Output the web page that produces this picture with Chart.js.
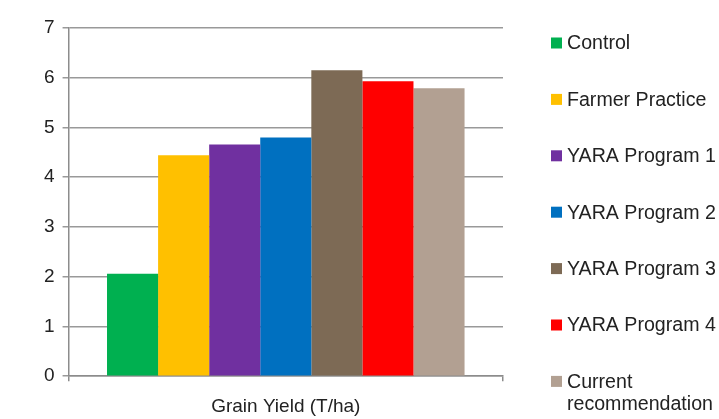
<!DOCTYPE html>
<html>
<head>
<meta charset="utf-8">
<script src="https://cdn.jsdelivr.net/npm/chart.js@4/dist/chart.umd.min.js"></script>
<style>
  html, body { margin: 0; padding: 0; background: #fff; }
  #wrap { width: 719px; height: 419px; }
</style>
</head>
<body>
<div id="wrap"><canvas id="yield" width="719" height="419"></canvas></div>
<script>
var categories = ['Grain Yield (T/ha)'];
var treatments = ['Control', 'Farmer Practice', 'YARA Program 1', 'YARA Program 2',
    'YARA Program 3', 'YARA Program 4', ['Current', 'recommendation']];
var yields = [2.06, 4.44, 4.66, 4.80, 6.15, 5.93, 5.79];
var colors = ['#00B050', '#FFC000', '#7030A0', '#0070C0', '#7D6A55', '#FF0000', '#B2A092'];
var yTicks = [0, 1, 2, 3, 4, 5, 6, 7];

var FONT = "'Liberation Sans', Arial, sans-serif";
Chart.defaults.font.family = FONT;
Chart.defaults.color = '#222';

var ctx = document.getElementById('yield');

// legend drawn on the right, one item per dataset, spaced evenly
const sideLegend = {
    id: 'sideLegend',
    afterDraw: (chart) => {
        const c = chart.ctx;
        const x = 551, y0 = 43, step = 56.4, box = 11, lh = 22;
        c.save();
        c.font = '19.6px ' + FONT;
        c.textBaseline = 'middle';
        chart.data.datasets.forEach((ds, i) => {
            const y = y0 + i * step;
            c.fillStyle = ds.backgroundColor;
            c.fillRect(x, y - box / 2, box, box);
            c.fillStyle = '#222';
            const lines = Array.isArray(ds.label) ? ds.label : [ds.label];
            lines.forEach((t, j) => c.fillText(t, x + 16, y + 1 + j * lh));
        });
        c.restore();
    }
};

const drawYield = () => {
    const datasets = treatments.map((t, i) => ({
        label: t,
        data: [yields[i]],
        backgroundColor: colors[i],
        borderWidth: 0
    }));
    var options = {
        responsive: false,
        animation: { duration: 0 },
        layout: { padding: { top: 28, right: 216, bottom: -13, left: 36 } },
        categoryPercentage: 0.823,
        barPercentage: 1.0,
        plugins: {
            tooltip: { enabled: false },
            legend: { display: false }
        },
        scales: {
            x: {
                grid: { drawOnChartArea: false, drawTicks: true, tickLength: 5, color: '#8c8c8c', lineWidth: 1.5 },
                border: { color: '#8c8c8c', width: 1.5 },
                ticks: { font: { size: 19 }, padding: 14, color: '#222' }
            },
            y: {
                min: 0,
                max: 7,
                afterBuildTicks: (axis) => { axis.ticks = yTicks.map(v => ({ value: v })); },
                grid: { color: '#999', lineWidth: 1.5, tickLength: 6 },
                border: { color: '#8c8c8c', width: 1.5 },
                ticks: { font: { size: 19 }, padding: 8, color: '#222' }
            }
        }
    };
    new Chart(ctx, {
        type: 'bar',
        data: { labels: categories, datasets: datasets },
        options: options,
        plugins: [sideLegend]
    });
};

drawYield();
</script>
</body>
</html>
